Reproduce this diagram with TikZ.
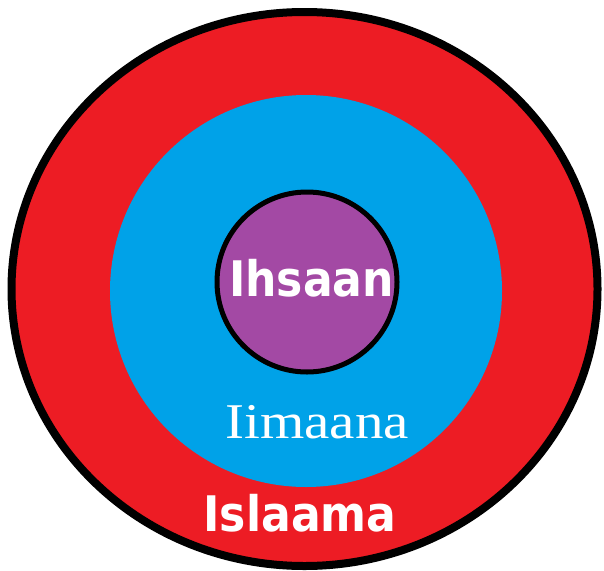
\documentclass[tikz,border=0pt]{standalone}
\usepackage{fontspec}
\usepackage{tikz}
\newfontfamily\boldlabel[FakeStretch=0.9]{DejaVu Sans}
\newfontfamily\seriflabel[FakeStretch=1.14]{Liberation Serif}
\definecolor{islaamared}{RGB}{237,28,36}
\definecolor{iimaanablue}{RGB}{0,162,232}
\definecolor{ihsaanpurple}{RGB}{163,73,164}
\tikzset{
  ring/.style={line width=#1},
  sanslabel/.style={anchor=base, inner sep=0, text=white, font=\boldlabel\bfseries\fontsize{49}{49}\selectfont},
  romanlabel/.style={anchor=base, inner sep=0, text=white, font=\seriflabel\fontsize{50}{50}\selectfont}}

\begin{document}
\begin{tikzpicture}[x=1pt, y=-1pt]
\useasboundingbox (0,0) rectangle (604,570);
\coordinate (islaam) at (304.5,289);
\coordinate (iimaan) at (306,291);
\coordinate (ihsaan) at (307,282);
\draw [ring=8pt, fill=islaamared] (islaam) ellipse [x radius=293, y radius=277];
\fill [iimaanablue] (iimaan) circle (196);
\draw [ring=5pt, fill=ihsaanpurple] (ihsaan) circle (90);
\node [sanslabel] (ihsaanlabel) at (311.5,296) {Ihsaan};
\node [romanlabel] (iimaanlabel) at (317,438) {Iimaana};
\node [sanslabel] (islaamlabel) at (300,531.5) {Islaama};
\end{tikzpicture}
\end{document}
